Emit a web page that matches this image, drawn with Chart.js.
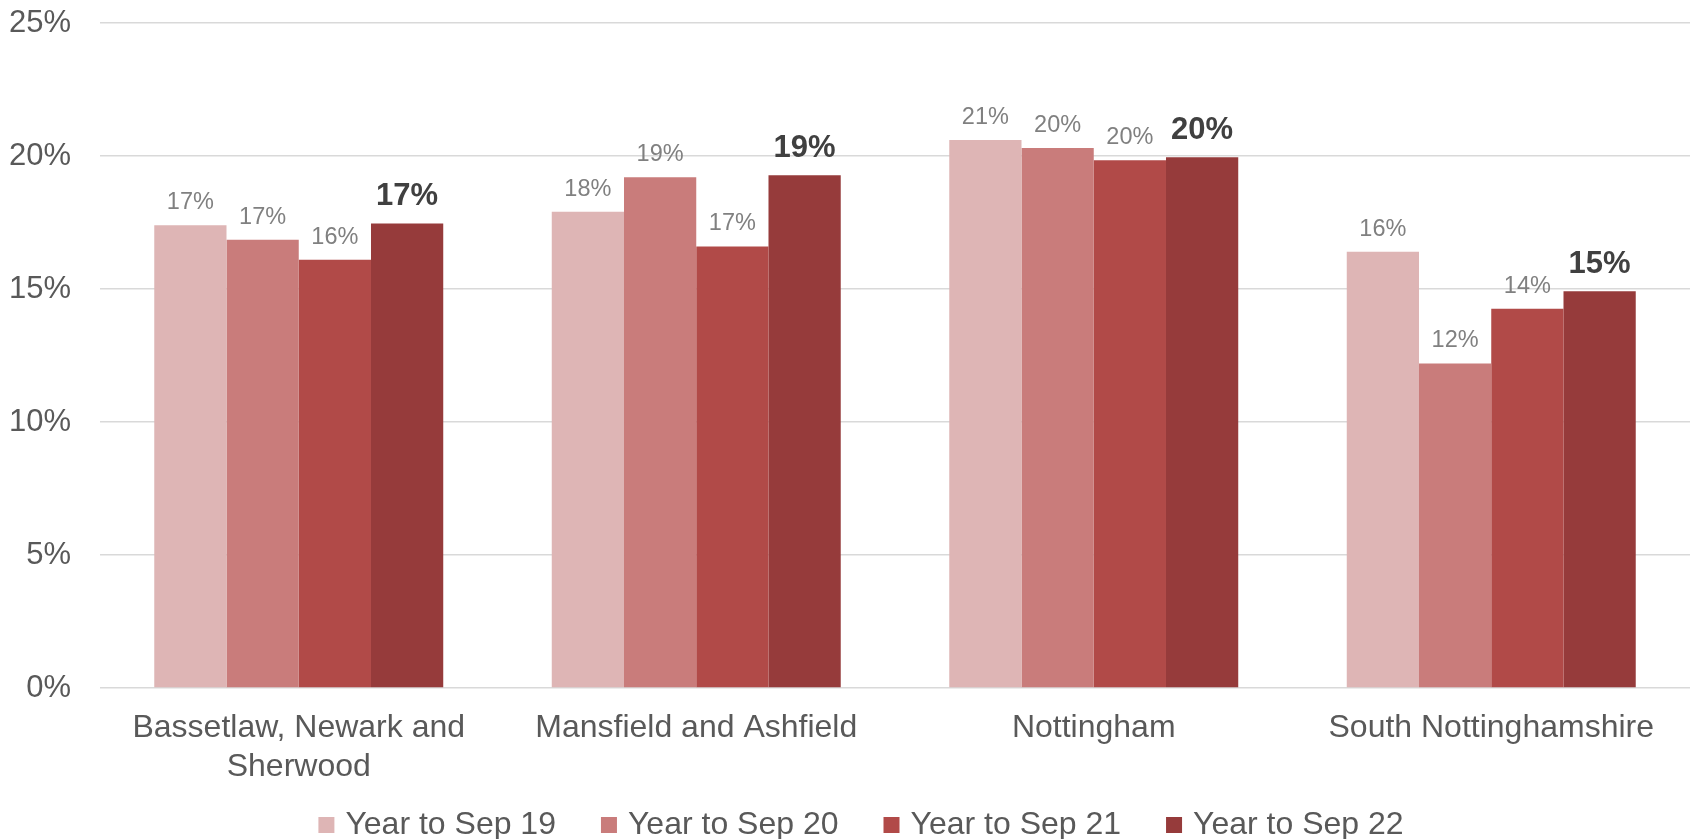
<!DOCTYPE html>
<html>
<head>
<meta charset="utf-8">
<script src="https://cdn.jsdelivr.net/npm/chart.js@4/dist/chart.umd.min.js"></script>
<style>
  body { margin: 0; background: #fff; }
  #wrap { width: 1694px; height: 839px; }
</style>
</head>
<body>
<div id="wrap"><canvas id="chart" width="1694" height="839"></canvas></div>
<script>
const areas = [
  ['Bassetlaw, Newark and', 'Sherwood'],
  'Mansfield and Ashfield',
  'Nottingham',
  'South Nottinghamshire'
];
const seriesNames = ['Year to Sep 19', 'Year to Sep 20', 'Year to Sep 21', 'Year to Sep 22'];
const sep19 = [17.4, 17.9, 20.6, 16.4];
const sep20 = [16.85, 19.2, 20.3, 12.2];
const sep21 = [16.1, 16.6, 19.84, 14.26];
const sep22 = [17.46, 19.28, 19.95, 14.92];
const yTicks = [0, 5, 10, 15, 20, 25];

const barColours = ['#DEB5B5', '#C97C7B', '#B14A48', '#963B3B'];
const font = '"Liberation Sans", Arial, sans-serif';

// value labels above each bar, last series in bold
const valueLabels = {
  id: 'valueLabels',
  afterDatasetsDraw(chart) {
    const ctx = chart.ctx;
    const n = chart.data.datasets.length;
    chart.data.datasets.forEach((ds, i) => {
      const meta = chart.getDatasetMeta(i);
      const last = i === n - 1;
      ctx.save();
      ctx.font = (last ? 'bold 31px ' : '23.5px ') + font;
      ctx.fillStyle = last ? '#404040' : '#808080';
      ctx.textAlign = 'center';
      ctx.textBaseline = 'alphabetic';
      meta.data.forEach((bar, j) => {
        ctx.fillText(Math.round(ds.data[j]) + '%', bar.x, bar.y - (last ? 18.5 : 16));
      });
      ctx.restore();
    });
  }
};

// legend row along the bottom, built from the datasets
const bottomLegend = {
  id: 'bottomLegend',
  afterDraw(chart) {
    const ctx = chart.ctx;
    const box = 16, textGap = 11, itemGap = 45;
    ctx.save();
    ctx.font = '32px ' + font;
    ctx.textBaseline = 'middle';
    ctx.textAlign = 'left';
    const items = chart.data.datasets.map(ds => ({
      text: ds.label, colour: ds.backgroundColor, w: ctx.measureText(ds.label).width
    }));
    const total = items.reduce((s, it) => s + box + textGap + it.w, 0) + itemGap * (items.length - 1);
    let x = chart.width / 2 + 14 - total / 2;
    const y = chart.height - 14;
    items.forEach(it => {
      ctx.fillStyle = it.colour;
      ctx.fillRect(x, y - box / 2, box, box);
      ctx.fillStyle = '#595959';
      ctx.fillText(it.text, x + box + textGap, y);
      x += box + textGap + it.w + itemGap;
    });
    ctx.restore();
  }
};

const datasets = [sep19, sep20, sep21, sep22].map((d, i) => ({
  label: seriesNames[i],
  data: d,
  backgroundColor: barColours[i],
  borderWidth: 0,
  barPercentage: 1,
  categoryPercentage: 0.727
}));

new Chart(document.getElementById('chart'), {
  type: 'bar',
  data: { labels: areas, datasets },
  plugins: [valueLabels, bottomLegend],
  options: {
    responsive: false,
    animation: false,
    layout: { padding: { top: 23, left: 0, right: 4, bottom: 57 } },
    plugins: {
      tooltip: { enabled: false },
      legend: { display: false }
    },
    scales: {
      x: {
        grid: { display: false },
        border: { display: false },
        ticks: {
          color: '#595959',
          font: { family: font, size: 32 },
          padding: 13.4,
          maxRotation: 0,
          autoSkip: false
        },
        afterFit(scale) { scale.height = 94; }
      },
      y: {
        min: 0,
        max: 25,
        afterBuildTicks(scale) { scale.ticks = yTicks.map(v => ({ value: v })); },
        grid: { color: '#D9D9D9', lineWidth: 1.5, drawTicks: false },
        border: { display: false },
        ticks: {
          color: '#595959',
          font: { family: font, size: 31 },
          padding: 29,
          callback: v => v + '%'
        },
        afterFit(scale) {
          scale.width = 100;
          scale.paddingTop = 0;
          scale.paddingBottom = 0;
        }
      }
    }
  }
});
</script>
</body>
</html>
